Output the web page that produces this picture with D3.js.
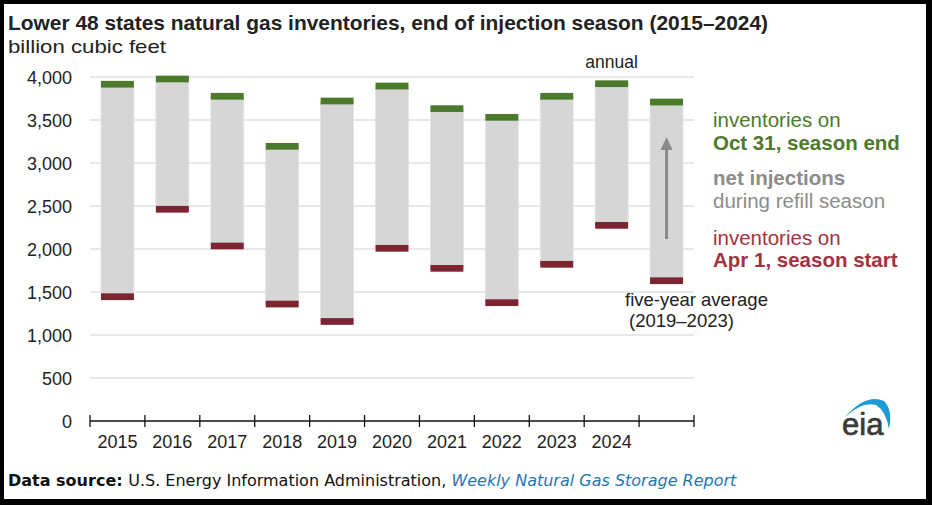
<!DOCTYPE html>
<html>
<head>
<meta charset="utf-8">
<script src="https://cdn.jsdelivr.net/npm/d3@7"></script>
<style>
  body { margin: 0; background: #000; }
  svg { display: block; }
</style>
</head>
<body>
<script>
// chart values
const categories = ["2015", "2016", "2017", "2018", "2019", "2020", "2021", "2022", "2023", "2024", "avg"];
const tickLabels = ["2015", "2016", "2017", "2018", "2019", "2020", "2021", "2022", "2023", "2024", ""];
const octInventory = [3916, 3977, 3776, 3194, 3721, 3895, 3632, 3531, 3776, 3922, 3709];
const aprInventory = [1445, 2462, 2035, 1360, 1157, 2008, 1775, 1376, 1822, 2275, 1631];
const yTicks = [0, 500, 1000, 1500, 2000, 2500, 3000, 3500, 4000];

window.onload = function() {
    let width = 932,
        height = 505;

    let svg = d3.select("body")
        .append("svg")
        .attr("width", width)
        .attr("height", height);

    // black frame + white page
    svg.append("rect")
        .attr("x", 0).attr("y", 0)
        .attr("width", width).attr("height", height)
        .attr("fill", "black");
    svg.append("rect")
        .attr("x", 4).attr("y", 4)
        .attr("width", 922).attr("height", 495)
        .attr("fill", "white");

    const font = "'Liberation Sans', Arial, sans-serif";
    const green = "#4b7a2a", red = "#7c2431", grey = "#d6d6d6";

    let x = d3.scaleBand()
        .domain(categories)
        .range([90, 694])
        .padding(0);
    let y = d3.scaleLinear()
        .domain([0, 4000])
        .range([421, 77]);

    // title
    svg.append("text")
        .attr("x", 8).attr("y", 30)
        .attr("font-family", font).attr("font-weight", "bold")
        .attr("font-size", 21).attr("fill", "#222")
        .attr("textLength", 760).attr("lengthAdjust", "spacingAndGlyphs")
        .text("Lower 48 states natural gas inventories, end of injection season (2015\u20132024)");
    svg.append("text")
        .attr("x", 8).attr("y", 53)
        .attr("font-family", font).attr("font-size", 18.5).attr("fill", "#222")
        .attr("textLength", 158).attr("lengthAdjust", "spacingAndGlyphs")
        .text("billion cubic feet");

    // gridlines
    svg.append("g")
        .selectAll("line")
        .data(yTicks.filter(d => d > 0))
        .join("line")
        .attr("x1", 90).attr("x2", 694)
        .attr("y1", d => y(d)).attr("y2", d => y(d))
        .attr("stroke", "#e1e1e1").attr("stroke-width", 1.5);

    // y labels
    svg.append("g")
        .selectAll("text")
        .data(yTicks)
        .join("text")
        .attr("x", 72).attr("y", d => y(d) + 6.5)
        .attr("text-anchor", "end")
        .attr("font-family", font).attr("font-size", 18).attr("fill", "#222")
        .text(d => d3.format(",")(d));

    let bw = x.bandwidth() * 0.6,
        off = x.bandwidth() * 0.2,
        markBcf = 78;

    // net injections (grey)
    svg.append("g")
        .selectAll("rect")
        .data(categories)
        .join("rect")
        .attr("x", d => x(d) + off)
        .attr("width", bw)
        .attr("y", (d, i) => y(octInventory[i]))
        .attr("height", (d, i) => y(aprInventory[i]) - y(octInventory[i]))
        .attr("fill", grey)
        .attr("stroke", "#e4e4e4").attr("stroke-width", 0.8);

    // Oct 31 markers
    svg.append("g")
        .selectAll("rect")
        .data(categories)
        .join("rect")
        .attr("x", d => x(d) + off)
        .attr("width", bw)
        .attr("y", (d, i) => y(octInventory[i] + markBcf / 2))
        .attr("height", y(0) - y(markBcf))
        .attr("fill", green);

    // Apr 1 markers
    svg.append("g")
        .selectAll("rect")
        .data(categories)
        .join("rect")
        .attr("x", d => x(d) + off)
        .attr("width", bw)
        .attr("y", (d, i) => y(aprInventory[i] + markBcf / 2))
        .attr("height", y(0) - y(markBcf))
        .attr("fill", red);

    // x axis
    let xAxis = svg.append("g");
    xAxis.append("line")
        .attr("x1", 90).attr("x2", 694)
        .attr("y1", y(0)).attr("y2", y(0))
        .attr("stroke", "#111").attr("stroke-width", 1.5);
    xAxis.selectAll(".tick")
        .data(categories.map(d => x(d)).concat([x.range()[1]]))
        .join("line")
        .attr("x1", d => d).attr("x2", d => d)
        .attr("y1", y(0) - 6).attr("y2", y(0) + 6)
        .attr("stroke", "#111").attr("stroke-width", 1.3);
    xAxis.selectAll("text")
        .data(categories)
        .join("text")
        .attr("x", d => x(d) + x.bandwidth() / 2)
        .attr("y", 448)
        .attr("text-anchor", "middle")
        .attr("font-family", font).attr("font-size", 18).attr("fill", "#222")
        .text((d, i) => tickLabels[i]);

    // arrow in the average bar
    let avgX = x("avg") + x.bandwidth() / 2;
    svg.append("line")
        .attr("x1", avgX).attr("x2", avgX)
        .attr("y1", 239).attr("y2", 148)
        .attr("stroke", "#8a8a8a").attr("stroke-width", 3);
    svg.append("path")
        .attr("d", `M${avgX - 6},${150} L${avgX},${137} L${avgX + 6},${150} Z`)
        .attr("fill", "#8a8a8a");

    // annotations
    svg.append("text")
        .attr("x", x("2024") + x.bandwidth() / 2).attr("y", 68)
        .attr("text-anchor", "middle")
        .attr("font-family", font).attr("font-size", 17.5).attr("fill", "#222")
        .text("annual");
    svg.append("text")
        .attr("x", 625).attr("y", 306)
        .attr("font-family", font).attr("font-size", 18.5).attr("fill", "#222")
        .text("five-year average");
    svg.append("text")
        .attr("x", 629).attr("y", 327)
        .attr("font-family", font).attr("font-size", 18.5).attr("fill", "#222")
        .text("(2019\u20132023)");

    // legend
    let legend = [
        { t: "inventories on", y: 127, c: "#4d7a2b", b: false },
        { t: "Oct 31, season end", y: 150, c: "#4d7a2b", b: true },
        { t: "net injections", y: 185, c: "#8c8c8c", b: true },
        { t: "during refill season", y: 208, c: "#8c8c8c", b: false },
        { t: "inventories on", y: 245, c: "#a3323f", b: false },
        { t: "Apr 1, season start", y: 267, c: "#a3323f", b: true }
    ];
    svg.append("g")
        .selectAll("text")
        .data(legend)
        .join("text")
        .attr("x", 713).attr("y", d => d.y)
        .attr("font-family", font).attr("font-size", 20.5)
        .attr("font-weight", d => d.b ? "bold" : "normal")
        .attr("fill", d => d.c)
        .text(d => d.t);

    // eia logo
    svg.append("path")
        .attr("d", "M845,417 Q866,393 884,401 Q893,410 889,429 Q886,411 876,405 Q862,401 845,417 Z")
        .attr("fill", "#1a9ad7");
    svg.append("text")
        .attr("x", 842).attr("y", 435)
        .attr("font-family", font).attr("font-size", 31)
        .attr("fill", "#3a3a3a").attr("stroke", "#3a3a3a").attr("stroke-width", 0.7)
        .text("eia");

    // source
    let src = svg.append("text")
        .attr("x", 8).attr("y", 486)
        .attr("font-family", "'DejaVu Sans', Verdana, sans-serif")
        .attr("font-size", 16).attr("fill", "#111");
    src.append("tspan").attr("font-weight", "bold").text("Data source: ");
    src.append("tspan").text("U.S. Energy Information Administration, ");
    src.append("tspan").attr("font-style", "italic").attr("fill", "#1f78b4").text("Weekly Natural Gas Storage Report");
}
</script>
</body>
</html>
